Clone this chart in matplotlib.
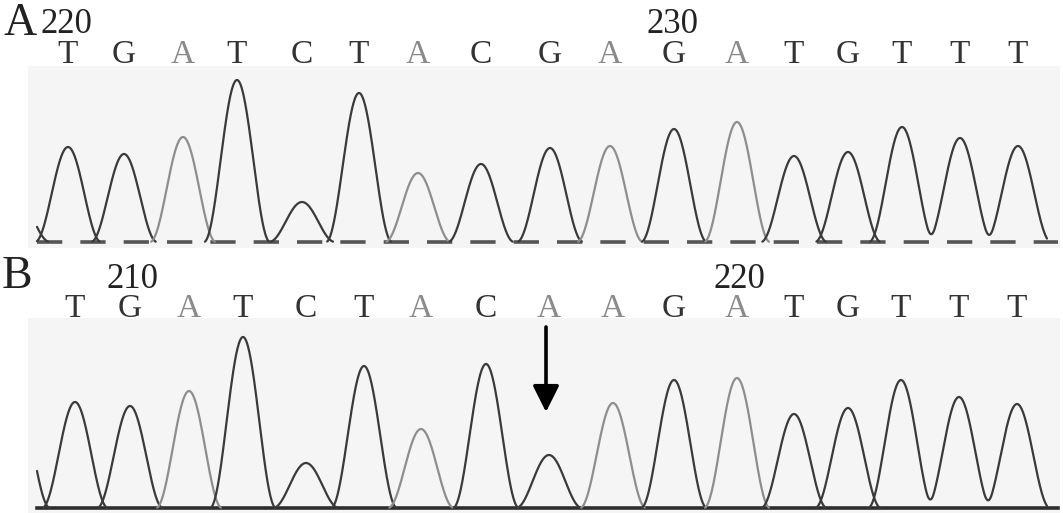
import numpy as np
import matplotlib
matplotlib.use("Agg")
import matplotlib.pyplot as plt

# ---------------- data ----------------
# Panel A (wild type)
bases_A = list("TGATCTACGAGATGTTT")
peak_pos_A = [68, 124, 183, 237, 302, 359, 418, 481, 550, 610, 674, 737, 794, 848, 902, 960, 1018]
peak_int_A = [95, 88, 105, 162, 40, 149, 69, 78, 94, 96, 113, 120, 86, 90, 115, 104, 96]
lead_A = (17, 45)          # tail of preceding peak (position, intensity)
numbers_A = {0: "220", 10: "230"}

# Panel B (mutant)
bases_B = list("TGATCTACAAGATGTTT")
trace_B = list("TGATCTACGAGATGTTT")   # channel that produced each peak (residual G at the mutation)
peak_pos_B = [75, 130, 189, 243, 306, 364, 421, 486, 549, 613, 674, 737, 794, 848, 901, 959, 1017]
peak_int_B = [106, 102, 117, 171, 45, 142, 79, 144, 53, 105, 128, 130, 94, 100, 128, 111, 104]
lead_B = (17, 110)
numbers_B = {1: "210", 11: "220"}
mutation_index_B = 8

# ---------------- style ----------------
W, H = 1063, 513
DARK = "#3a3a3a"
LIGHT = "#8e8e8e"
col = {"A": LIGHT, "T": DARK, "G": DARK, "C": DARK}
txtcol = {"A": "#8a8a8a", "T": "#333333", "G": "#333333", "C": "#333333"}
SERIF = ["Liberation Serif", "DejaVu Serif"]
HALF_BASE = 33.0   # half width of a peak at its base (scan units)

fig = plt.figure(figsize=(W / 100, H / 100), dpi=100)
fig.patch.set_facecolor("white")


def px_axes(left, top, right, bottom):
    return fig.add_axes([left / W, 1 - bottom / H, (right - left) / W, (bottom - top) / H])


def peak(x, c, h):
    d = np.clip(np.abs(x - c) / HALF_BASE, 0, 1)
    return h * np.cos(d * np.pi / 2) ** 2


def draw_trace(ax, trace_bases, pos, inten, lead, x0=37, x1=1047):
    x = np.linspace(x0, x1, 4000)
    y = peak(x, lead[0], lead[1])
    m = y > 0.3
    ax.plot(x[m], y[m], color=DARK, lw=1.6, solid_capstyle="round", zorder=3)
    i = 0
    n = len(pos)
    while i < n:
        j = i
        while j + 1 < n and trace_bases[j + 1] == trace_bases[i]:
            j += 1
        y = np.zeros_like(x)
        for k in range(i, j + 1):
            y += peak(x, pos[k], inten[k])
        lo = pos[i] - 40
        hi = pos[j] + 40 if j < n - 1 else x1
        m = (x >= lo) & (x <= hi) & (y > 0.3)
        ax.plot(x[m], y[m], color=col[trace_bases[i]], lw=1.6,
                solid_capstyle="round", zorder=3)
        i = j + 1


def setup(ax, ylim):
    ax.set_xlim(28, 1060)
    ax.set_ylim(*ylim)
    ax.set_facecolor("#f5f5f5")
    for s in ax.spines.values():
        s.set_visible(False)
    ax.set_xticks([])
    ax.set_yticks([])


# Panel A
axA = px_axes(28, 66, 1060, 248)
setup(axA, (-6, 176))
draw_trace(axA, bases_A, peak_pos_A, peak_int_A, lead_A)
axA.plot([37, 1058], [0, 0], color="#555555", lw=2.6, ls=(0, (7, 5)), zorder=2)

# Panel B
axB = px_axes(28, 318, 1060, 514)
setup(axB, (-6, 190))
draw_trace(axB, trace_B, peak_pos_B, peak_int_B, lead_B)
axB.plot([37, 1058], [0, 0], color="#2e2e2e", lw=2.6, zorder=2)
xm = peak_pos_B[mutation_index_B] - 3
axB.annotate("", xy=(xm, 96), xytext=(xm, 181),
             arrowprops=dict(arrowstyle="-|>,head_length=0.4,head_width=0.2",
                             lw=2.6, color="black", mutation_scale=40,
                             shrinkA=0, shrinkB=0), zorder=5)


def ftext(x, y, s, **kw):
    fig.text(x / W, 1 - y / H, s, family=SERIF, **kw)


for b, x in zip(bases_A, peak_pos_A):
    ftext(x, 63, b, fontsize=24, color=txtcol[b], ha="center", va="baseline")
for b, x in zip(bases_B, peak_pos_B):
    ftext(x, 317, b, fontsize=24, color=txtcol[b], ha="center", va="baseline")

for i, s in numbers_A.items():
    ftext(peak_pos_A[i] - 2, 33, s, fontsize=25, color="#222222", ha="center", va="baseline")
for i, s in numbers_B.items():
    ftext(peak_pos_B[i] + 2, 288, s, fontsize=25, color="#222222", ha="center", va="baseline")

ftext(3, 35, "A", fontsize=33, color="#222222", ha="left", va="baseline")
ftext(2, 288, "B", fontsize=33, color="#222222", ha="left", va="baseline")

fig.savefig("out.png", dpi=100, facecolor="white")
